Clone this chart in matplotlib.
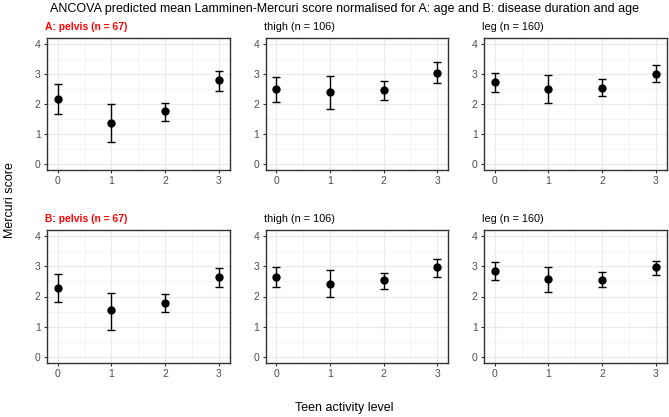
import matplotlib
matplotlib.use("Agg")
import matplotlib.pyplot as plt
from matplotlib.ticker import MultipleLocator

plt.rcParams['font.family'] = ['Liberation Sans', 'DejaVu Sans']

levels = [0, 1, 2, 3]
titles = ["A: pelvis (n = 67)", "thigh (n = 106)", "leg (n = 160)",
          "B: pelvis (n = 67)", "thigh (n = 106)", "leg (n = 160)"]
title_colors = ["red", "black", "black", "red", "black", "black"]
title_bold = [True, False, False, True, False, False]

means = [
    [2.18, 1.38, 1.76, 2.79],
    [2.50, 2.40, 2.48, 3.05],
    [2.73, 2.50, 2.55, 3.01],
    [2.29, 1.54, 1.80, 2.63],
    [2.65, 2.42, 2.53, 2.97],
    [2.86, 2.57, 2.54, 2.97],
]
upper = [
    [2.68, 1.99, 2.05, 3.10],
    [2.89, 2.94, 2.77, 3.39],
    [3.04, 2.98, 2.83, 3.30],
    [2.75, 2.13, 2.07, 2.95],
    [2.98, 2.88, 2.78, 3.25],
    [3.14, 2.98, 2.80, 3.19],
]
lower = [
    [1.68, 0.72, 1.43, 2.45],
    [2.08, 1.82, 2.15, 2.71],
    [2.39, 2.03, 2.26, 2.75],
    [1.81, 0.90, 1.50, 2.30],
    [2.30, 1.97, 2.25, 2.65],
    [2.55, 2.14, 2.30, 2.70],
]

suptitle = ("ANCOVA predicted mean Lamminen-Mercuri score normalised for "
            "A: age and B: disease duration and age")

W, H = 669, 417
fig = plt.figure(figsize=(W / 100, H / 100), dpi=100)
fig.patch.set_facecolor("white")

col_left = [47, 265.5, 484]
col_w = 182.5
row_top = [38, 230]
row_h = [132, 133]

for i in range(6):
    r, c = divmod(i, 3)
    l = col_left[c]
    t = row_top[r]
    h = row_h[r]
    ax = fig.add_axes([l / W, 1 - (t + h) / H, col_w / W, h / H])
    ax.set_xlim(-0.2, 3.2)
    ax.set_ylim(-0.2, 4.2)
    ax.xaxis.set_major_locator(MultipleLocator(1))
    ax.xaxis.set_minor_locator(MultipleLocator(0.5))
    ax.yaxis.set_major_locator(MultipleLocator(1))
    ax.yaxis.set_minor_locator(MultipleLocator(0.5))
    ax.grid(which="major", color="#EBEBEB", linewidth=0.9, zorder=0)
    ax.grid(which="minor", color="#F2F2F2", linewidth=0.6, zorder=0)
    ax.set_axisbelow(True)
    for s in ax.spines.values():
        s.set_color("#333333")
        s.set_linewidth(1.0)
    ax.tick_params(which="major", length=2.5, width=0.8, color="#333333",
                   labelsize=7.5, labelcolor="#4D4D4D", pad=2)
    ax.tick_params(which="minor", length=0)
    m = means[i]
    yerr = [[m[k] - lower[i][k] for k in range(4)],
            [upper[i][k] - m[k] for k in range(4)]]
    ax.errorbar(levels, m, yerr=yerr, fmt="o", color="black", ms=5,
                elinewidth=1.0, capsize=2.8, capthick=1.0, zorder=3)
    ax.set_title(titles[i], loc="left",
                 fontsize=7.4 if title_bold[i] else 7.8,
                 color=title_colors[i],
                 fontweight="bold" if title_bold[i] else "normal",
                 pad=6, x=-0.01)

fig.text(344 / W, 1 - 9 / H, suptitle, ha="center", va="center",
         fontsize=9.0, color="black")
fig.text(344 / W, 1 - 408 / H, "Teen activity level", ha="center",
         va="center", fontsize=9)
fig.text(10 / W, 1 - 200 / H, "Mercuri score", ha="center", va="center",
         rotation=90, fontsize=9)

fig.savefig("out.png", dpi=100)
